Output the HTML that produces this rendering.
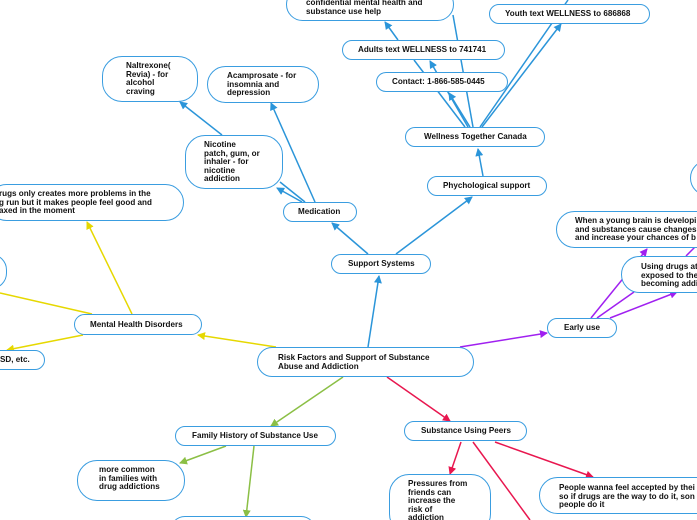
<!DOCTYPE html>
<html style="overflow:hidden;width:697px;height:520px"><head><meta charset="utf-8"><style>
html,body{margin:0;width:697px;height:520px;overflow:hidden;}
body{background:#fff;position:relative;font-family:"Liberation Sans",sans-serif;}
.n{position:absolute;border:1.3px solid #3a9de0;background:#fff;box-sizing:border-box;border-radius:20px;}
.t{position:absolute;font-size:8.1px;font-weight:bold;color:#111;line-height:8.6px;white-space:nowrap;}
svg{position:absolute;left:0;top:0;}
</style></head><body>
<svg width="697" height="520">
<defs>
<marker id="b" markerWidth="8" markerHeight="8" refX="7" refY="4" orient="auto" markerUnits="userSpaceOnUse"><path d="M0,0L8,4L0,8z" fill="#2b95d9"/></marker>
<marker id="y" markerWidth="8" markerHeight="8" refX="7" refY="4" orient="auto" markerUnits="userSpaceOnUse"><path d="M0,0L8,4L0,8z" fill="#e6d800"/></marker>
<marker id="g" markerWidth="8" markerHeight="8" refX="7" refY="4" orient="auto" markerUnits="userSpaceOnUse"><path d="M0,0L8,4L0,8z" fill="#8bbf45"/></marker>
<marker id="r" markerWidth="8" markerHeight="8" refX="7" refY="4" orient="auto" markerUnits="userSpaceOnUse"><path d="M0,0L8,4L0,8z" fill="#e8174f"/></marker>
<marker id="p" markerWidth="8" markerHeight="8" refX="7" refY="4" orient="auto" markerUnits="userSpaceOnUse"><path d="M0,0L8,4L0,8z" fill="#a020f0"/></marker>
</defs>
<g stroke="#2b95d9" stroke-width="1.5" fill="none">
<line x1="368" y1="347" x2="379" y2="276" marker-end="url(#b)"/>
<line x1="368" y1="254" x2="332" y2="223" marker-end="url(#b)"/>
<line x1="396" y1="254" x2="472" y2="197" marker-end="url(#b)"/>
<line x1="483" y1="176" x2="478" y2="149" marker-end="url(#b)"/>
<line x1="468" y1="127" x2="430" y2="61" marker-end="url(#b)"/>
<line x1="465" y1="127" x2="414" y2="60"/>
<line x1="470" y1="127" x2="449" y2="93" marker-end="url(#b)"/>
<line x1="473" y1="127" x2="453" y2="15"/>
<line x1="398" y1="40" x2="385" y2="22" marker-end="url(#b)"/>
<line x1="482" y1="127" x2="561" y2="24" marker-end="url(#b)"/>
<line x1="480" y1="127" x2="568" y2="0"/>
<line x1="315" y1="202" x2="271" y2="103" marker-end="url(#b)"/>
<line x1="302" y1="202" x2="277" y2="188" marker-end="url(#b)"/>
<line x1="305" y1="202" x2="280" y2="182"/>
<line x1="222" y1="135" x2="180" y2="102" marker-end="url(#b)"/>
</g>
<g stroke="#e6d800" stroke-width="1.5">
<line x1="276" y1="347" x2="198" y2="335" marker-end="url(#y)"/>
<line x1="132" y1="314" x2="87" y2="222" marker-end="url(#y)"/>
<line x1="92" y1="314" x2="0" y2="293"/>
<line x1="83" y1="335" x2="7" y2="350" marker-end="url(#y)"/>
</g>
<g stroke="#8bbf45" stroke-width="1.5">
<line x1="343" y1="377" x2="271" y2="426" marker-end="url(#g)"/>
<line x1="226" y1="446" x2="180" y2="463" marker-end="url(#g)"/>
<line x1="254" y1="446" x2="246" y2="517" marker-end="url(#g)"/>
</g>
<g stroke="#e8174f" stroke-width="1.5">
<line x1="387" y1="377" x2="450" y2="421" marker-end="url(#r)"/>
<line x1="461" y1="442" x2="450" y2="474" marker-end="url(#r)"/>
<line x1="473" y1="442" x2="530" y2="520"/>
<line x1="495" y1="442" x2="593" y2="477" marker-end="url(#r)"/>
</g>
<g stroke="#a020f0" stroke-width="1.5">
<line x1="460" y1="347" x2="547" y2="333" marker-end="url(#p)"/>
<line x1="591" y1="318" x2="647" y2="249" marker-end="url(#p)"/>
<line x1="597" y1="318" x2="634" y2="292"/>
<line x1="610" y1="318" x2="677" y2="292" marker-end="url(#p)"/>
<line x1="686" y1="256" x2="697" y2="245"/>
</g>
</svg>

<div class="n" style="left:286px;top:-12px;width:168px;height:33px"></div>
<div class="t" style="left:306px;top:-1px">confidential mental health and<br>substance use help</div>
<div class="n" style="left:489px;top:4px;width:161px;height:20px"></div>
<div class="t" style="left:505px;top:10px">Youth text WELLNESS to 686868</div>
<div class="n" style="left:342px;top:40px;width:163px;height:20px"></div>
<div class="t" style="left:358px;top:46px">Adults text WELLNESS to 741741</div>
<div class="n" style="left:376px;top:72px;width:132px;height:20px"></div>
<div class="t" style="left:392px;top:78px">Contact: 1-866-585-0445</div>
<div class="n" style="left:405px;top:127px;width:140px;height:20px"></div>
<div class="t" style="left:424px;top:133px">Wellness Together Canada</div>
<div class="n" style="left:427px;top:176px;width:120px;height:20px"></div>
<div class="t" style="left:443px;top:182px">Phychological support</div>
<div class="n" style="left:102px;top:56px;width:96px;height:46px"></div>
<div class="t" style="left:126px;top:62px">Naltrexone(<br>Revia) - for<br>alcohol<br>craving</div>
<div class="n" style="left:207px;top:66px;width:112px;height:37px"></div>
<div class="t" style="left:227px;top:72px">Acamprosate - for<br>insomnia and<br>depression</div>
<div class="n" style="left:185px;top:135px;width:98px;height:54px"></div>
<div class="t" style="left:204px;top:141px">Nicotine<br>patch, gum, or<br>inhaler - for<br>nicotine<br>addiction</div>
<div class="n" style="left:283px;top:202px;width:74px;height:20px"></div>
<div class="t" style="left:298px;top:208px">Medication</div>
<div class="n" style="left:-12px;top:184px;width:196px;height:37px"></div>
<div class="t" style="left:-1px;top:190px">rugs only creates more problems in the<br>g run but it makes people feel good and<br>axed in the moment</div>
<div class="n" style="left:331px;top:254px;width:100px;height:20px"></div>
<div class="t" style="left:348px;top:260px">Support Systems</div>
<div class="n" style="left:690px;top:160px;width:40px;height:36px"></div>
<div class="n" style="left:556px;top:211px;width:170px;height:37px"></div>
<div class="t" style="left:575px;top:217px">When a young brain is developi<br>and substances cause changes<br>and increase your chances of b</div>
<div class="n" style="left:621px;top:256px;width:100px;height:37px"></div>
<div class="t" style="left:641px;top:263px">Using drugs at<br>exposed to the<br>becoming addi</div>
<div class="n" style="left:547px;top:318px;width:70px;height:20px"></div>
<div class="t" style="left:564px;top:324px">Early use</div>
<div class="n" style="left:74px;top:314px;width:128px;height:21px"></div>
<div class="t" style="left:90px;top:321px">Mental Health Disorders</div>
<div class="n" style="left:-25px;top:254px;width:32px;height:35px"></div>
<div class="n" style="left:-12px;top:350px;width:57px;height:20px"></div>
<div class="t" style="left:0px;top:356px">SD, etc.</div>
<div class="n" style="left:257px;top:347px;width:217px;height:30px"></div>
<div class="t" style="left:278px;top:354px">Risk Factors and Support of Substance<br>Abuse and Addiction</div>
<div class="n" style="left:175px;top:426px;width:161px;height:20px"></div>
<div class="t" style="left:192px;top:432px">Family History of Substance Use</div>
<div class="n" style="left:77px;top:460px;width:108px;height:41px"></div>
<div class="t" style="left:99px;top:466px">more common<br>in families with<br>drug addictions</div>
<div class="n" style="left:170px;top:516px;width:146px;height:30px"></div>
<div class="n" style="left:404px;top:421px;width:123px;height:20px"></div>
<div class="t" style="left:421px;top:427px">Substance Using Peers</div>
<div class="n" style="left:389px;top:474px;width:102px;height:60px"></div>
<div class="t" style="left:408px;top:480px">Pressures from<br>friends can<br>increase the<br>risk of<br>addiction</div>
<div class="n" style="left:539px;top:477px;width:180px;height:37px"></div>
<div class="t" style="left:559px;top:484px">People wanna feel accepted by thei<br>so if drugs are the way to do it, son<br>people do it</div>
</body></html>
